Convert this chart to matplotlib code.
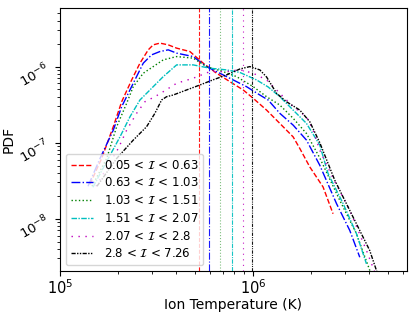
import numpy as np
import matplotlib
matplotlib.use('Agg')
import matplotlib.pyplot as plt

# temperatures in units of 1e5 K, PDF in units of 1e-7
T_red = [1.43, 1.644, 1.889, 2.088, 2.353, 2.597, 2.868, 3.043, 3.297, 3.64, 4.025, 4.716, 5.527,
         6.486, 7.60, 8.91, 10.04, 11.78, 13.80, 16.18, 17.52, 19.74, 23.13, 26.06]
P_red = [0.284, 0.619, 1.62, 3.45, 6.68, 11.09, 16.61, 19.33, 20.36, 19.33, 17.49, 15.78, 11.09,
         8.18, 6.34, 4.93, 3.83, 2.68, 1.79, 1.19, 0.838, 0.479, 0.261, 0.116]

T_blue = [1.397, 1.612, 1.889, 2.088, 2.398, 2.702, 2.985, 3.297, 3.64, 4.025, 4.906, 5.754, 6.745,
          7.906, 9.27, 10.87, 12.0, 13.80, 16.18, 18.97, 22.23, 27.15, 31.81, 35.85]
P_blue = [0.267, 0.619, 1.46, 2.97, 6.04, 11.09, 14.27, 15.78, 16.61, 15.03, 13.55, 10.0, 8.18,
          6.68, 5.45, 4.23, 3.64, 2.43, 1.70, 1.08, 0.505, 0.158, 0.0701, 0.0311]

T_green = [1.465, 1.746, 1.967, 2.216, 2.398, 2.702, 3.043, 3.43, 4.025, 4.906, 5.754, 7.016, 8.233,
           10.04, 11.78, 13.80, 16.18, 18.97, 22.23, 28.24, 34.46, 41.3]
P_green = [0.267, 0.619, 1.62, 3.29, 5.45, 8.18, 10.0, 12.26, 13.55, 12.91, 10.0, 8.59, 7.38,
           5.45, 4.02, 3.12, 2.09, 1.32, 0.63, 0.174, 0.0634, 0.0179]

T_cyan = [1.482, 1.779, 2.046, 2.306, 2.597, 2.868, 3.17, 3.43, 4.025, 4.906, 5.984, 7.305, 8.562,
          10.45, 12.0, 13.80, 16.18, 18.97, 22.23, 24.55, 29.38, 34.46, 38.82]
P_cyan = [0.259, 0.619, 1.19, 2.19, 3.64, 4.68, 6.04, 7.38, 10.53, 10.53, 9.53, 9.05, 8.38,
          6.68, 5.40, 4.02, 2.68, 1.79, 0.93, 0.392, 0.158, 0.0634, 0.0255]

T_mag = [1.537, 2.005, 2.216, 2.496, 2.756, 3.105, 3.43, 4.025, 4.906, 5.984, 7.305, 8.562, 10.04,
         11.78, 13.80, 16.18, 18.97, 20.53, 22.23, 26.06, 31.81, 38.82, 44.5]
P_mag = [0.267, 0.838, 1.46, 2.43, 3.45, 4.02, 4.68, 6.04, 7.03, 8.59, 8.59, 9.1, 8.18,
         6.68, 4.46, 2.97, 2.19, 1.46, 0.796, 0.340, 0.129, 0.0382, 0.0155]

T_blk = [1.555, 1.967, 2.398, 2.812, 3.105, 3.365, 3.57, 3.863, 4.534, 5.313, 6.204, 7.305, 8.562,
         9.65, 10.87, 11.78, 13.27, 14.95, 17.52, 19.74, 22.23, 26.60, 33.09, 40.37, 45.5]
P_blk = [0.267, 0.619, 1.08, 1.62, 2.43, 3.64, 4.02, 4.23, 4.93, 5.73, 6.68, 7.77, 9.3,
         10.0, 9.05, 7.3, 4.46, 3.45, 2.68, 1.88, 1.0, 0.320, 0.105, 0.0382, 0.0155]

# mean temperatures (units of 1e5 K)
T_mean = [5.25, 5.95, 6.75, 7.75, 8.87, 9.95]

labels = ['0.05 < $\\mathcal{I}$ < 0.63', '0.63 < $\\mathcal{I}$ < 1.03',
          '1.03 < $\\mathcal{I}$ < 1.51', '1.51 < $\\mathcal{I}$ < 2.07',
          '2.07 < $\\mathcal{I}$ < 2.8', '2.8 < $\\mathcal{I}$ < 7.26']

series = [(T_red, P_red), (T_blue, P_blue), (T_green, P_green),
          (T_cyan, P_cyan), (T_mag, P_mag), (T_blk, P_blk)]
colors = ['r', 'b', 'g', 'c', 'm', 'k']
styles = ['--', '-.', ':', (0, (4, 1, 1, 1)), (0, (1, 4)), (0, (3, 1, 1, 1, 1, 1))]

fig = plt.figure(figsize=(4.15, 3.12), dpi=100)
ax = fig.add_axes([0.1446, 0.1314, 0.8361, 0.843])

for (T, P), c, ls, lab in zip(series, colors, styles, labels):
    ax.plot(np.array(T) * 1e5, np.array(P) * 1e-7, color=c, ls=ls, lw=1.0, label=lab)
for t, c, ls in zip(T_mean, colors, styles):
    ax.axvline(t * 1e5, color=c, ls=ls, lw=0.8, alpha=0.5 if c == 'g' else 0.9)

ax.set_xscale('log')
ax.set_yscale('log')
ax.set_xlim(1e5, 6.3e6)
ax.set_ylim(2.05e-9, 5.9e-6)
ax.tick_params(axis='x', labelsize=10.5, pad=1.5)
ax.tick_params(axis='y', labelsize=9.5, pad=2)
for lab in ax.get_yticklabels():
    lab.set_rotation(30)
ax.set_xlabel('Ion Temperature (K)', fontsize=10, labelpad=1)
ax.set_ylabel('PDF', fontsize=10)
ax.yaxis.set_label_coords(-0.128, 0.5)
ax.legend(loc='lower left', fontsize=8.5, handlelength=1.9, labelspacing=0.4,
          borderaxespad=0.5, handletextpad=0.9)

fig.savefig('out.png', dpi=100)
